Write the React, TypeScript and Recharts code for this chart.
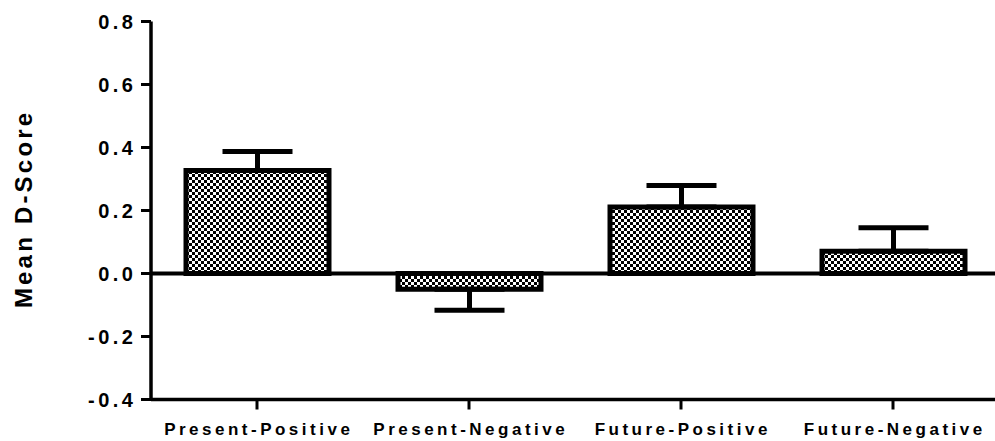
import React from 'react';
import { BarChart, Bar, XAxis, YAxis, ErrorBar, ReferenceLine } from 'recharts';

const categories = ['Present-Positive', 'Present-Negative', 'Future-Positive', 'Future-Negative'];
const means = [0.327, -0.05, 0.211, 0.071];
const errLower = [0, 0.067, 0, 0];
const errUpper = [0.06, 0, 0.068, 0.074];
const yTicks = [-0.4, -0.2, 0, 0.2, 0.4, 0.6, 0.8];
const yTitle = 'Mean D-Score';

const data = categories.map((name, i) => ({
  name,
  value: means[i],
  err: [errLower[i], errUpper[i]],
}));

const FONT = '"Liberation Sans", Arial, sans-serif';

const XTick = (props: any) => {
  const { x, y, payload } = props;
  const ls = 3.5;
  return (
    <text
      x={x + ls / 2}
      y={y + 25}
      textAnchor="middle"
      fontFamily={FONT}
      fontWeight="bold"
      fontSize={17}
      fill="#000"
      style={{ letterSpacing: ls }}
    >
      {payload.value}
    </text>
  );
};

const YTick = (props: any) => {
  const { x, y, payload } = props;
  const ls = 3.5;
  return (
    <text
      x={x - 4.5}
      y={y}
      dy="0.36em"
      textAnchor="end"
      fontFamily={FONT}
      fontWeight="bold"
      fontSize={20}
      fill="#000"
      style={{ letterSpacing: ls }}
    >
      {Number(payload.value).toFixed(1)}
    </text>
  );
};

const YTitle = (props: any) => {
  const { viewBox } = props;
  const cy = viewBox.y + viewBox.height / 2;
  const ls = 3.2;
  const tx = 32;
  const ty = cy - ls / 2;
  return (
    <text
      x={tx}
      y={ty}
      transform={`rotate(-90, ${tx}, ${ty})`}
      textAnchor="middle"
      fontFamily={FONT}
      fontWeight="bold"
      fontSize={24}
      fill="#000"
      style={{ letterSpacing: ls }}
    >
      {yTitle}
    </text>
  );
};

export default function App() {
  return (
    <div style={{ position: 'absolute', left: 0, top: 0, width: 995, height: 441, overflow: 'hidden', background: '#fff' }}>
      <BarChart
        width={1000}
        height={441}
        data={data}
        margin={{ top: 21.5, right: 1, bottom: 0, left: 0 }}
        barSize={143}
      >
        <defs>
          <pattern id="checker" width="6" height="6" patternUnits="userSpaceOnUse">
            <rect width="6" height="6" fill="#fff" />
            <rect x="0" y="0" width="3" height="3" fill="#000" />
            <rect x="3" y="3" width="3" height="3" fill="#000" />
          </pattern>
        </defs>
        <XAxis
          dataKey="name"
          height={41.5}
          tickSize={10}
          tickMargin={0}
          axisLine={{ stroke: '#000', strokeWidth: 3.5 }}
          tickLine={{ stroke: '#000', strokeWidth: 3 }}
          tick={<XTick />}
          interval={0}
        />
        <YAxis
          width={151}
          domain={[-0.4, 0.8]}
          ticks={yTicks}
          allowDataOverflow
          tickSize={10}
          tickMargin={0}
          axisLine={{ stroke: '#000', strokeWidth: 3.5 }}
          tickLine={{ stroke: '#000', strokeWidth: 3 }}
          tick={<YTick />}
          label={<YTitle />}
        />
        <Bar dataKey="value" fill="url(#checker)" stroke="#000" strokeWidth={5} isAnimationActive={false}>
          <ErrorBar dataKey="err" width={35} stroke="#000" strokeWidth={5} direction="y" />
        </Bar>
        <ReferenceLine y={0} stroke="#000" strokeWidth={4} />
      </BarChart>
    </div>
  );
}
